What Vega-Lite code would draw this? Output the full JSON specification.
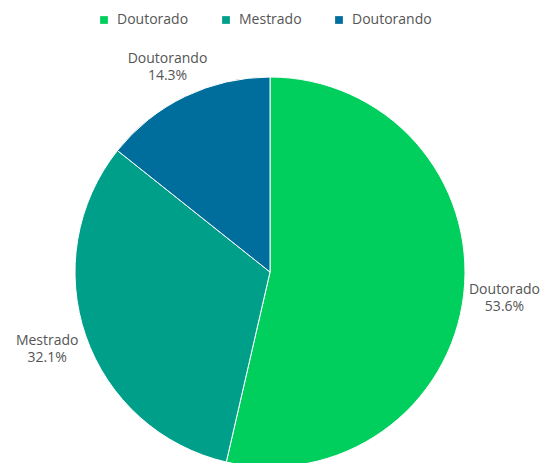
{
  "$schema": "https://vega.github.io/schema/vega-lite/v6.json",
  "width": 540,
  "height": 464,
  "autosize": "none",
  "padding": {"left": 0, "top": 40, "right": 7, "bottom": 0},
  "background": "white",
  "data": {
    "values": [
      {"categoria": "Doutorado", "pct": 53.6, "ordem": 1, "rotulo": "Doutorado\n53.6%"},
      {"categoria": "Mestrado", "pct": 32.1, "ordem": 2, "rotulo": "Mestrado\n32.1%"},
      {"categoria": "Doutorando", "pct": 14.3, "ordem": 3, "rotulo": "Doutorando\n14.3%"}
    ]
  },
  "encoding": {
    "theta": {"field": "pct", "type": "quantitative", "stack": true},
    "order": {"field": "ordem", "type": "quantitative"}
  },
  "layer": [
    {
      "mark": {"type": "arc", "outerRadius": 195, "stroke": "white", "strokeWidth": 1},
      "encoding": {
        "color": {
          "field": "categoria",
          "type": "nominal",
          "scale": {"domain": ["Doutorado", "Mestrado", "Doutorando"], "range": ["#00CF5E", "#009F8A", "#006E9C"]},
          "legend": {
            "title": null,
            "orient": "none",
            "legendX": 97,
            "legendY": -27,
            "direction": "horizontal",
            "symbolType": "square",
            "symbolSize": 60,
            "labelFont": "Open Sans",
            "labelFontSize": 14,
            "labelColor": "#555555",
            "columnPadding": 30,
            "labelOffset": 6,
            "symbolStrokeWidth": 0
          }
        }
      }
    },
    {
      "mark": {"type": "text", "radius": 236, "dy": -9, "font": "Open Sans", "fontSize": 14, "color": "#555555", "lineBreak": "\n", "lineHeight": 17, "align": "center", "baseline": "middle"},
      "encoding": {
        "text": {"field": "rotulo", "condition": {"test": "datum.categoria === 'Doutorando'", "value": ""}}
      }
    },
    {
      "mark": {"type": "text", "radius": 236, "font": "Open Sans", "fontSize": 14, "color": "#555555", "lineBreak": "\n", "lineHeight": 17, "align": "center", "baseline": "middle"},
      "encoding": {
        "text": {"field": "rotulo", "condition": {"test": "datum.categoria !== 'Doutorando'", "value": ""}}
      }
    }
  ],
  "config": {"view": {"stroke": null}}
}
